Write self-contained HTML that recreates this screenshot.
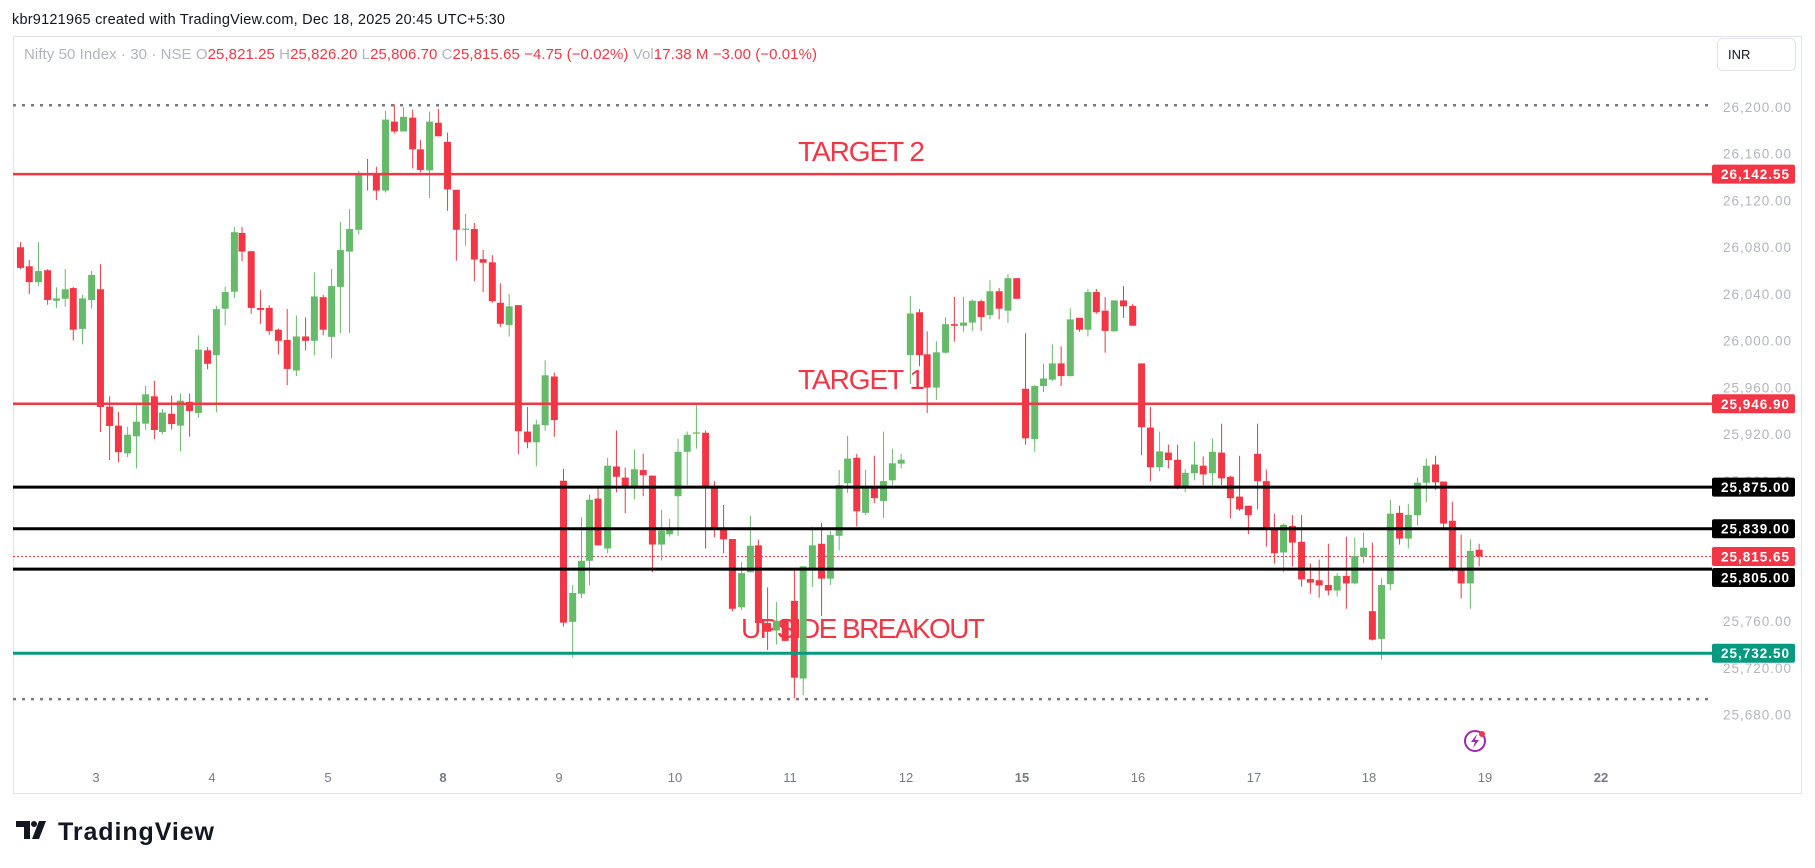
<!DOCTYPE html>
<html><head><meta charset="utf-8"><style>
html,body{margin:0;padding:0;background:#fff;width:1815px;height:868px;overflow:hidden}
svg{display:block;font-family:"Liberation Sans",sans-serif}
</style></head><body>
<svg id="s" width="1815" height="868" viewBox="0 0 1815 868" xmlns="http://www.w3.org/2000/svg">
<text x="12" y="24" font-size="14.5" fill="#131722" textLength="493">kbr9121965 created with TradingView.com, Dec 18, 2025 20:45 UTC+5:30</text>
<rect x="13.5" y="36.5" width="1788" height="757" fill="#fff" stroke="#e0e3eb"/>
<text x="24" y="59" font-size="15" fill="#b2b5be" textLength="793">Nifty 50 Index · 30 · NSE <tspan>O</tspan><tspan fill="#f23645">25,821.25</tspan> <tspan>H</tspan><tspan fill="#f23645">25,826.20</tspan> <tspan>L</tspan><tspan fill="#f23645">25,806.70</tspan> <tspan>C</tspan><tspan fill="#f23645">25,815.65</tspan> <tspan fill="#f23645">−4.75 (−0.02%)</tspan> <tspan>Vol</tspan><tspan fill="#f23645">17.38 M</tspan> <tspan fill="#f23645">−3.00 (−0.01%)</tspan></text>
<rect x="1717.5" y="38.5" width="78" height="32" rx="5" fill="#fff" stroke="#e0e3eb"/>
<text x="1728" y="59" font-size="13" fill="#131722">INR</text>
<g id="axis" font-size="13.5" fill="#b2b5be"></g>
<line x1="13" y1="105.3" x2="1710" y2="105.3" stroke="#787b86" stroke-width="2.5" stroke-dasharray="3,6"/>
<line x1="13" y1="699.1" x2="1710" y2="699.1" stroke="#787b86" stroke-width="2.5" stroke-dasharray="3,6"/>
<text x="798" y="161" font-size="28" fill="#f23645" textLength="127">TARGET 2</text>
<text x="798" y="389" font-size="28" fill="#f23645" textLength="127">TARGET 1</text>
<text x="741" y="638" font-size="28" fill="#f23645" textLength="244">UPSIDE BREAKOUT</text>
<line x1="13" y1="556.5" x2="1712" y2="556.5" stroke="#f23645" stroke-width="1" stroke-dasharray="2,2"/>
<g id="c"></g>
<line x1="13" y1="174.1" x2="1712" y2="174.1" stroke="#f23645" stroke-width="2.5"/>
<line x1="13" y1="403.8" x2="1712" y2="403.8" stroke="#f23645" stroke-width="2.5"/>
<line x1="13" y1="487.1" x2="1712" y2="487.1" stroke="#000" stroke-width="3"/>
<line x1="13" y1="528.7" x2="1712" y2="528.7" stroke="#000" stroke-width="3"/>
<line x1="13" y1="569.1" x2="1712" y2="569.1" stroke="#000" stroke-width="3"/>
<line x1="13" y1="653.2" x2="1712" y2="653.2" stroke="#089981" stroke-width="3"/>
<g id="badges" font-size="13.5" font-weight="bold" fill="#fff"></g>
<g font-size="13" fill="#787b86" text-anchor="middle" id="xa"></g>
<circle cx="1475" cy="741" r="10" fill="none" stroke="#9c27b0" stroke-width="2"/>
<path d="M1477 734 L1471 742 L1475 742 L1473 748 L1479 740 L1475 740 Z" fill="#9c27b0"/>
<circle cx="1482" cy="734" r="3" fill="#f23645"/>
<path d="M16 821 h14 v18 h-6 v-12 h-8 z M32 839 l7 -18 h7 l-7 18 z" fill="#131722"/>
<circle cx="34" cy="824" r="3" fill="#131722"/>
<text x="58" y="840" font-size="25" font-weight="bold" fill="#131722" textLength="156">TradingView</text>
</svg>
<script>
var NS="http://www.w3.org/2000/svg";
function el(p,t,a,txt){var e=document.createElementNS(NS,t);for(var k in a)e.setAttribute(k,a[k]);if(txt)e.textContent=txt;p.appendChild(e);return e;}
function yp(p){return 174.1+(26142.55-p)*1.1684;}
var ax=document.getElementById('axis');
for(var p=26200;p>=25680;p-=40){el(ax,'text',{x:1723,y:yp(p)+5,textLength:68},(p/1000|0)+","+String(p%1000).padStart(3,"0")+".00");}
var bd=document.getElementById('badges');
[[174.1,'#f23645','26,142.55'],[403.8,'#f23645','25,946.90'],[487.1,'#000','25,875.00'],[528.7,'#000','25,839.00'],[556.5,'#f23645','25,815.65'],[577.5,'#000','25,805.00'],[653.2,'#089981','25,732.50']].forEach(function(b){
 el(bd,'rect',{x:1712,y:b[0]-9.5,width:83,height:19,rx:2,fill:b[1]});
 el(bd,'text',{x:1721,y:b[0]+5,textLength:68},b[2]);});
var xa=document.getElementById('xa');
[[96,'3'],[212,'4'],[328,'5'],[443,'8'],[559,'9'],[675,'10'],[790,'11'],[906,'12'],[1022,'15'],[1138,'16'],[1254,'17'],[1369,'18'],[1485,'19'],[1601,'22']].forEach(function(a){el(xa,'text',{x:a[0],y:782,'font-weight':(a[1]=='8'||a[1]=='15'||a[1]=='22')?'bold':'normal'},a[1]);});
var D=[
[43,400,452,387,455,0],[66,448,488,432,518,0],[90,488,460,387,497,0],[114,458,533,455,545,0],[137,535,529,501,553,0],[160,530,506,455,550,0],[181,503,608,500,635,0],[205,606,529,520,645,0],[229,533,470,460,555,0],[252,506,803,443,866,0],[276,802,851,776,937,0],[299,850,917,815,942,0],[323,920,873,853,930,0],[346,877,840,797,958,0],[370,845,771,750,860,0],[393,776,861,737,884,0],[414,866,817,808,872,0],[438,820,846,774,860,0],[461,850,787,769,915,0],[485,790,813,769,878,0],[508,818,658,622,830,0],[532,660,694,652,708,0],[555,672,556,548,816,0],[578,555,513,500,597,0],[602,512,362,349,528,0],[622,364,411,349,435,0],[646,410,553,410,568,0],[670,553,558,508,593,0],[693,553,611,546,621,0],[717,608,636,605,670,0],[740,634,707,556,748,0],[764,711,625,572,725,0],[788,625,636,577,660,0],[811,636,524,463,672,0],[834,526,608,520,622,0],[856,626,498,455,680,0],[879,500,407,336,616,0],[903,411,354,303,616,0],[927,356,215,207,368,0],[950,215,217,177,257,0,'r'],[973,215,257,197,281,0],[997,257,78,56,262,0],[1020,83,108,40,113,0],[1044,108,71,47,108,0],[1068,73,153,53,201,0],[1088,153,205,129,211,0],[1112,206,83,58,276,0],[1135,86,120,51,120,0],[1159,134,254,111,308,0],[1182,255,356,255,434,0],[1206,353,355,316,396,0,'g'],[1229,354,431,339,486,0],[1252,430,439,407,513,0],[1276,438,536,420,540,0],[1297,540,593,491,601,0],[1320,596,549,518,625,0],[1344,546,864,546,922,0],[1368,865,892,803,907,0],[1391,892,847,835,953,0],[1414,849,723,685,863,0],[1438,726,836,716,878,0],[1462,989,1347,959,1357,0],[1486,1345,1272,1252,1435,0],[1509,1274,1191,1081,1285,0],[1530,1191,1037,1024,1253,0],
[89,1034,1152,1004,1152,1],[114,1160,951,931,1172,1],[137,953,979,862,1018,1],[160,981,1004,956,1071,1],[184,1006,960,910,1036,1],[207,962,975,921,1028,1],[231,976,1150,976,1220,1],[255,1150,1115,1062,1190,1],[276,1124,1110,1085,1130,1],[298,1028,916,883,1128,1],[322,916,873,865,1000,1],[346,867,869,793,908,1,'g'],[370,868,1007,862,1160,1],[393,1002,1112,990,1132,1],[417,1108,1137,1050,1172,1],[440,1136,1312,1136,1318,1],[464,1308,1222,1194,1316,1],[487,1220,1153,1077,1220,1],[508,1152,1348,1138,1355,1],[532,1348,1370,1258,1416,1],[555,1367,1342,1295,1402,1],[578,1338,1393,1338,1393,1],[602,1292,1486,1215,1538,1],[625,1488,1205,1205,1530,1],[649,1210,1152,1105,1257,1],[673,1148,1236,1095,1330,1],[696,1236,1126,1116,1252,1],[719,1128,1000,962,1165,1],[741,995,933,876,1020,1],[765,931,1066,921,1104,1],[788,1070,1008,961,1075,1],[811,1008,1033,926,1045,1],[835,1040,990,865,1083,1],[858,988,945,908,1000,1],[881,946,936,921,958,1],
[905,672,567,523,745,1],[929,564,672,556,700,1],[949,670,754,612,818,1],[973,754,665,637,785,1],[997,666,594,577,668,1],[1020,594,598,525,638,1],[1044,598,590,525,613,1],[1067,590,535,532,611,1],[1090,536,576,532,611,1],[1113,571,511,483,582,1],[1137,511,555,503,582,1],[1160,560,478,467,591,1],[1183,478,530,478,530,1],
[1206,757,882,617,898,1],[1230,884,750,748,916,1],[1253,750,731,694,765,1],[1276,734,693,645,738,1],[1299,693,725,650,750,1],[1323,725,582,554,726,1],[1347,578,608,578,613,1],[1369,608,513,505,625,1],[1391,513,564,505,568,1],[1414,560,611,526,666,1],[1438,612,534,534,613,1],[1462,534,549,498,578,1],[1486,548,598,543,598,1],
[46,693,854,693,925,2],[69,855,955,803,990,2],[93,955,915,865,965,2],[116,918,937,898,958,2],[140,936,1007,898,1010,2],[160,1006,969,960,1018,2],[184,970,948,890,988,2],[207,951,973,928,1000,2],[231,970,916,883,1000,2],[255,918,983,845,1000,2],[278,979,1033,976,1084,2],[302,1029,1061,926,1065,2],[325,1052,1076,1052,1124,2],[349,921,990,845,1061,2],[372,990,1108,961,1155,2],[393,1108,1172,1072,1198,2],[417,1170,1100,1097,1220,2],[440,1103,1145,1076,1205,2],[464,1143,1238,1075,1256,2],[487,1237,1246,1198,1274,2],[510,1240,1253,1188,1284,2],[534,1252,1266,1148,1278,2],[557,1266,1229,1222,1281,2],[581,1229,1248,1130,1312,2],[603,1248,1179,1133,1250,2],[626,1180,1158,1120,1197,2],[649,1318,1390,1145,1392,2],[673,1388,1252,1235,1440,2],[696,1250,1072,1037,1265,2],[720,1070,1135,1052,1150,2],[743,1135,1075,1047,1160,2],[767,1076,994,981,1102,2],[790,994,951,933,1043,2],[814,948,993,926,1012,2],[835,991,1097,991,1107,2],[858,1090,1213,1042,1218,2],[881,1211,1248,1125,1286,2],[905,1248,1166,1137,1312,2],[928,1163,1180,1148,1205,2]];
var g=document.getElementById('c');var off=[4,564,1124];var k=2.613;
function Y(z){return 88.7+z*0.3964;}
D.forEach(function(d){
 var x=off[d[5]]+d[0]/k;var o=Y(d[1]),c=Y(d[2]),h=Y(d[3]),l=Y(d[4]);
 var green=d[6]?d[6]=='g':(c<o);var col=green?'#66bb6a':'#f23645';
 var t=Math.min(o,c),b=Math.max(o,c);if(b-t<1.2)b=t+1.2;
 el(g,'line',{x1:x,y1:h,x2:x,y2:l,stroke:col,'stroke-width':1});
 el(g,'rect',{x:x-3.5,y:t,width:7,height:b-t,fill:col});
});
</script>
</body></html>
